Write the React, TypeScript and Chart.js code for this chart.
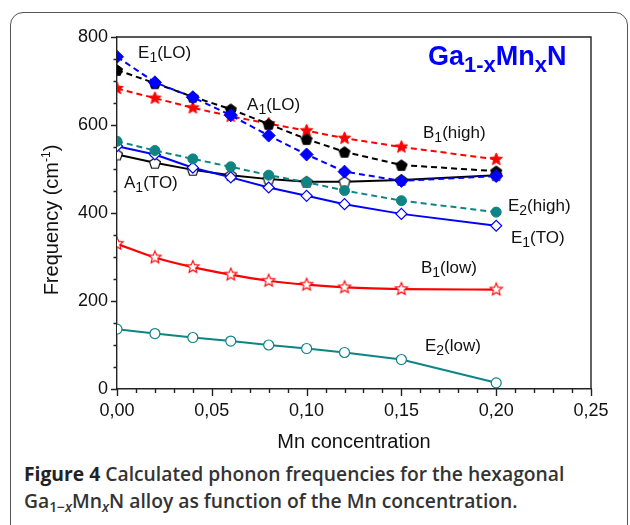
import React, { useEffect, useRef } from "react";
import { Chart, registerables } from "chart.js";

Chart.register(...registerables);

// ---- data ----
const concentration = [0, 0.02, 0.04, 0.06, 0.08, 0.1, 0.12, 0.15, 0.2];
const e1LO = [755, 697, 663, 622, 576, 533, 494, 473, 484];
const a1LO = [725, 695, 664, 636, 602, 568, 539, 509, 495];
const b1High = [683, 661, 639, 620, 603, 587, 570, 550, 522];
const e2High = [563, 542, 523, 505, 486, 470, 451, 428, 402];
const a1TO = [533, 514, 498, 486, 477, 471, 471, 475, 486];
const e1TO = [552, 533, 503, 481, 458, 439, 420, 398, 371];
const b1Low = [330, 299, 277, 260, 246, 237, 231, 227, 226];
const e2Low = [136, 126, 117, 109, 100, 92, 83, 67, 14];

const yTicks = [0, 200, 400, 600, 800];
const xTicks = [0, 0.05, 0.1, 0.15, 0.2, 0.25];

// annotation labels: [text, mode] mode 0 normal, 1 subscript
type Part = [string, number];
const labelParts: Part[][] = [
  [["E", 0], ["1", 1], ["(LO)", 0]],
  [["A", 0], ["1", 1], ["(LO)", 0]],
  [["B", 0], ["1", 1], ["(high)", 0]],
  [["A", 0], ["1", 1], ["(TO)", 0]],
  [["E", 0], ["2", 1], ["(high)", 0]],
  [["E", 0], ["1", 1], ["(TO)", 0]],
  [["B", 0], ["1", 1], ["(low)", 0]],
  [["E", 0], ["2", 1], ["(low)", 0]],
];
const labelX = [0.0111, 0.0686, 0.1614, 0.0037, 0.2062, 0.2078, 0.1603, 0.1624];
const labelY = [752, 634, 570, 457, 405, 332, 264, 86];

const titleParts: Part[] = [["Ga", 0], ["1-x", 1], ["Mn", 0], ["x", 1], ["N", 0]];
const titleX = 0.164;
const titleY = 736;

const FONT = "'Liberation Sans', Arial, sans-serif";
const BLUE = "#0000ff";
const RED = "#ff0000";
const TEAL = "#0e8484";

function makeShape(kind: "star" | "pent", r: number, fill: string, stroke: string, lw: number) {
  const size = Math.ceil(2 * r + 2 * lw + 2);
  const c = document.createElement("canvas");
  c.width = size;
  c.height = size;
  const ctx = c.getContext("2d")!;
  const cx = size / 2;
  const cy = size / 2;
  ctx.beginPath();
  if (kind === "star") {
    for (let i = 0; i < 10; i++) {
      const rr = i % 2 === 0 ? r : r * 0.45;
      const a = -Math.PI / 2 + (i * Math.PI) / 5;
      const px = cx + rr * Math.cos(a);
      const py = cy + rr * Math.sin(a);
      if (i === 0) ctx.moveTo(px, py);
      else ctx.lineTo(px, py);
    }
  } else {
    for (let i = 0; i < 5; i++) {
      const a = -Math.PI / 2 + (i * 2 * Math.PI) / 5;
      const px = cx + r * Math.cos(a);
      const py = cy + r * Math.sin(a) + r * 0.1;
      if (i === 0) ctx.moveTo(px, py);
      else ctx.lineTo(px, py);
    }
  }
  ctx.closePath();
  ctx.fillStyle = fill;
  ctx.fill();
  ctx.lineWidth = lw;
  ctx.strokeStyle = stroke;
  ctx.lineJoin = "miter";
  ctx.stroke();
  return c;
}

function richWidth(ctx: CanvasRenderingContext2D, parts: Part[], size: number, subSize: number, weight: string) {
  let w = 0;
  for (const [t, m] of parts) {
    ctx.font = `${weight} ${m === 0 ? size : subSize}px ${FONT}`;
    w += ctx.measureText(t).width;
  }
  return w;
}

function drawRich(
  ctx: CanvasRenderingContext2D,
  parts: Part[],
  x: number,
  y: number,
  size: number,
  subSize: number,
  subOff: number,
  weight: string,
  color: string
) {
  ctx.save();
  ctx.fillStyle = color;
  ctx.textAlign = "left";
  ctx.textBaseline = "alphabetic";
  let cx = x;
  for (const [t, m] of parts) {
    ctx.font = `${weight} ${m === 0 ? size : subSize}px ${FONT}`;
    const dy = m === 1 ? subOff : m === 2 ? -subOff : 0;
    ctx.fillText(t, cx, y + dy);
    cx += ctx.measureText(t).width;
  }
  ctx.restore();
}

const decorPlugin = {
  id: "decor",
  afterDraw(chart: any) {
    const ctx: CanvasRenderingContext2D = chart.ctx;
    const xs = chart.scales.x;
    const ys = chart.scales.y;
    const a = chart.chartArea;
    ctx.save();
    ctx.strokeStyle = "#222";
    ctx.lineWidth = 1.4;
    // top and right frame
    ctx.beginPath();
    ctx.moveTo(a.left, a.top);
    ctx.lineTo(a.right, a.top);
    ctx.lineTo(a.right, a.bottom);
    ctx.stroke();
    // ticks
    ctx.beginPath();
    for (let v = 0; v <= 800 + 1e-9; v += 50) {
      const py = Math.round(ys.getPixelForValue(v)) + 0.5;
      const len = v % 200 === 0 ? 6 : 3.5;
      ctx.moveTo(a.left, py);
      ctx.lineTo(a.left - len, py);
    }
    for (let i = 0; i <= 25; i++) {
      const v = i / 100;
      const px = Math.round(xs.getPixelForValue(v)) + 0.5;
      const len = i % 5 === 0 ? 7 : 4;
      ctx.moveTo(px, a.bottom);
      ctx.lineTo(px, a.bottom + len);
    }
    ctx.stroke();
    ctx.restore();

    // series labels
    for (let i = 0; i < labelParts.length; i++) {
      drawRich(ctx, labelParts[i], xs.getPixelForValue(labelX[i]), ys.getPixelForValue(labelY[i]), 17, 14, 4, "normal", "#111");
    }
    // title
    drawRich(ctx, titleParts, xs.getPixelForValue(titleX), ys.getPixelForValue(titleY), 27, 22, 7, "bold", BLUE);

    // axis titles
    ctx.save();
    ctx.fillStyle = "#111";
    ctx.font = `20px ${FONT}`;
    ctx.textAlign = "center";
    ctx.textBaseline = "alphabetic";
    ctx.fillText("Mn concentration", (a.left + a.right) / 2, 448);
    ctx.restore();

    const yParts: Part[] = [["Frequency (cm", 0], ["-1", 2], [")", 0]];
    ctx.save();
    ctx.translate(58, 220);
    ctx.rotate(-Math.PI / 2);
    const w = richWidth(ctx, yParts, 20, 12, "normal");
    drawRich(ctx, yParts, -w / 2, 0, 20, 12, 8, "normal", "#111");
    ctx.restore();
  },
};

function series(vals: number[]) {
  return concentration.map((x, i) => ({ x, y: vals[i] }));
}

export default function App() {
  const ref = useRef<HTMLCanvasElement | null>(null);

  useEffect(() => {
    document.body.style.margin = "0";
    const canvas = ref.current!;
    const starFilled = makeShape("star", 6.5, RED, RED, 1);
    const starOpen = makeShape("star", 6.5, "#fff", RED, 1.1);
    const pentFilled = makeShape("pent", 5.8, "#000", "#000", 1);
    const pentOpen = makeShape("pent", 5.8, "#fff", "#000", 1.1);
    const clip = { left: 0, top: false, right: false, bottom: false } as any;

    const dashed = [6, 4];
    const chart = new Chart(canvas, {
      type: "line",
      data: {
        datasets: [
          {
            label: "E1(LO)", data: series(e1LO), borderColor: BLUE, backgroundColor: BLUE,
            borderWidth: 2, borderDash: dashed, pointStyle: "rectRot", pointRadius: 6.5,
            pointBorderWidth: 1, pointBorderColor: BLUE, order: 1, clip,
          },
          {
            label: "A1(LO)", data: series(a1LO), borderColor: "#000", backgroundColor: "#000",
            borderWidth: 2, borderDash: dashed, pointStyle: pentFilled as any, order: 2, clip,
          },
          {
            label: "B1(high)", data: series(b1High), borderColor: RED, backgroundColor: RED,
            borderWidth: 2, borderDash: dashed, pointStyle: starFilled as any, order: 3, clip,
          },
          {
            label: "E2(high)", data: series(e2High), borderColor: TEAL, backgroundColor: TEAL,
            borderWidth: 2, borderDash: dashed, pointStyle: "circle", pointRadius: 5,
            pointBorderWidth: 1, pointBorderColor: TEAL, order: 4, clip,
          },
          {
            label: "E1(TO)", data: series(e1TO), borderColor: BLUE, backgroundColor: "#fff",
            borderWidth: 2, pointStyle: "rectRot", pointRadius: 5.5, pointBorderWidth: 1.2,
            pointBorderColor: BLUE, order: 5, clip,
          },
          {
            label: "A1(TO)", data: series(a1TO), borderColor: "#000", backgroundColor: "#fff",
            borderWidth: 2, pointStyle: pentOpen as any, order: 6, clip,
          },
          {
            label: "B1(low)", data: series(b1Low), borderColor: RED, backgroundColor: "#fff",
            borderWidth: 2.2, pointStyle: starOpen as any, cubicInterpolationMode: "monotone",
            order: 7, clip,
          },
          {
            label: "E2(low)", data: series(e2Low), borderColor: TEAL, backgroundColor: "#fff",
            borderWidth: 2, pointStyle: "circle", pointRadius: 5, pointBorderWidth: 1.2,
            pointBorderColor: TEAL, order: 8, clip,
          },
        ],
      },
      options: {
        animation: false,
        responsive: false,
        devicePixelRatio: 1,
        layout: { padding: { left: 0, top: 37, right: 39, bottom: 0 } },
        plugins: { legend: { display: false }, tooltip: { enabled: false } },
        elements: { line: { tension: 0 } },
        scales: {
          x: {
            type: "linear",
            min: 0,
            max: 0.25,
            afterBuildTicks: (s: any) => {
              s.ticks = xTicks.map((v) => ({ value: v }));
            },
            afterFit: (s: any) => {
              s.height = 71;
            },
            grid: { display: false, drawTicks: false },
            border: { display: true, color: "#222", width: 1.4 },
            ticks: {
              padding: 11,
              color: "#111",
              font: { family: FONT, size: 18 },
              maxRotation: 0,
              callback: (v: any) => Number(v).toFixed(2).replace(".", ","),
            },
          },
          y: {
            type: "linear",
            min: 0,
            max: 800,
            afterBuildTicks: (s: any) => {
              s.ticks = yTicks.map((v) => ({ value: v }));
            },
            afterFit: (s: any) => {
              s.width = 117;
            },
            grid: { display: false, drawTicks: false },
            border: { display: true, color: "#222", width: 1.4 },
            ticks: {
              padding: 9,
              color: "#111",
              font: { family: FONT, size: 18 },
              callback: (v: any) => String(v),
            },
          },
        },
      },
      plugins: [decorPlugin],
    } as any);
    return () => chart.destroy();
  }, []);

  return (
    <div style={{ position: "fixed", left: 0, top: 0, width: 630, height: 525, background: "#fff", overflow: "hidden" }}>
      <div
        style={{
          position: "absolute",
          left: 10,
          top: 12,
          width: 618,
          height: 540,
          border: "1.5px solid #555",
          borderRadius: 13,
          boxSizing: "border-box",
        }}
      />
      <canvas ref={ref} width={630} height={460} style={{ position: "absolute", left: 0, top: 0, width: 630, height: 460 }} />
      <div
        style={{
          position: "absolute",
          left: 24,
          top: 460,
          fontFamily: "'Open Sans', sans-serif",
          fontSize: 19.3,
          fontWeight: 600,
          color: "#333",
          lineHeight: "27px",
          whiteSpace: "nowrap",
        }}
      >
        <span style={{ fontWeight: 700, color: "#222" }}>Figure 4</span> Calculated phonon frequencies for the hexagonal
        <br />
        Ga
        <span style={{ fontSize: "0.72em", position: "relative", top: "0.3em" }}>
          1−<i>x</i>
        </span>
        Mn
        <span style={{ fontSize: "0.72em", position: "relative", top: "0.3em" }}>
          <i>x</i>
        </span>
        N alloy as function of the Mn concentration.
      </div>
    </div>
  );
}
